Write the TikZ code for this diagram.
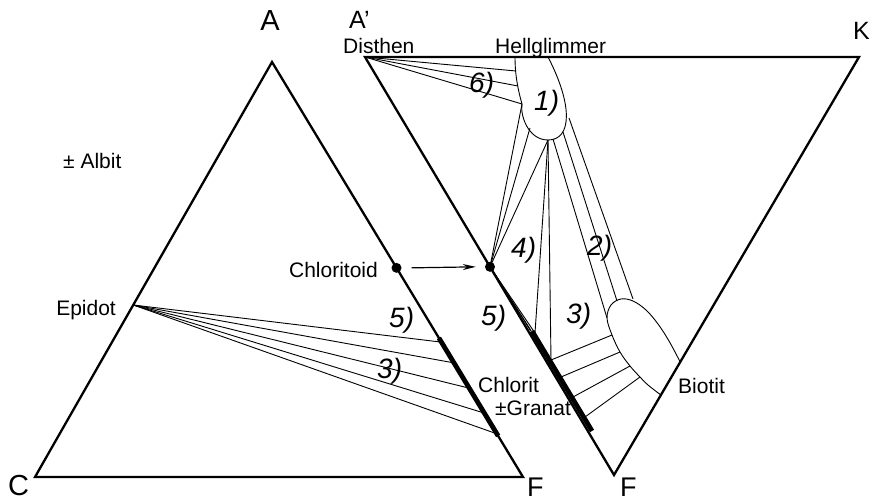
\documentclass[tikz,border=0pt]{standalone}
\usepackage{fontspec}
\setmainfont{Liberation Sans}
\usetikzlibrary{calc,arrows.meta}
\begin{document}
\begin{tikzpicture}[x=1pt,y=-1pt,
  side/.style={line width=2.3pt, line join=miter},
  tie/.style={line width=0.9pt},
  bar/.style={line width=4.8pt},
  lbl/.style={inner sep=0pt, font=\fontsize{21}{21}\selectfont},
  big/.style={inner sep=0pt, font=\fontsize{29}{29}\selectfont},
  num/.style={inner sep=0pt, font=\fontsize{28}{28}\selectfont\itshape},
  dotnode/.style={circle, fill, inner sep=0pt, minimum size=10pt}]
\useasboundingbox (0,0) rectangle (873,501);

% ---------- corners
\coordinate (A) at (272,62);
\coordinate (C) at (35,477);
\coordinate (F) at (523,477);
\coordinate (Ap) at (365,57);
\coordinate (K) at (859,57);
\coordinate (Fp) at (614,475);

% ---------- left triangle
\coordinate (Ep) at ($(A)!0.5855!(C)$);
\foreach \t [count=\i] in {0.675,0.725,0.786,0.846,0.896}
  \coordinate (lt\i) at ($(A)!\t!(F)$);
\foreach \i in {1,...,5} \draw[tie] (Ep) -- (lt\i);
\draw[side] (A) -- (C) -- (F) -- cycle;
\draw[bar] ($(A)!0.665!(F)$) -- ($(A)!0.901!(F)$);
\node[dotnode] (dL) at ($(A)!0.496!(F)$) {};

% ---------- right triangle: Hellglimmer field
\coordinate (Hb) at (548,140);
\coordinate (H1) at (516,71);
\coordinate (H2) at (518,86);
\coordinate (H3) at (522,104);
\coordinate (H4) at (530,128);
\coordinate (Ha) at (553,139);
\coordinate (Hbb) at (563,132);
\coordinate (Hc) at (569,118);
\draw[tie] (Hb) .. controls (528,140) and (520,115) .. (H3)
  .. controls (518,90) and (515,75) .. (515,57);
\draw[tie] (Hb) .. controls (572,140) and (573,105) .. (548,57);

% Biotit field
\coordinate (B0) at ($(K)!0.8086!(Fp)$);
\coordinate (B9) at ($(K)!0.7297!(Fp)$);
\coordinate (B1) at (612,335);
\coordinate (B2) at (620,352);
\coordinate (B3) at (630,366);
\coordinate (B4) at (640,377);
\coordinate (Bl) at (607,318);
\coordinate (Bt1) at (617,301);
\coordinate (Bt2) at (633,299);
\draw[tie] plot[smooth, tension=0.6] coordinates
  {(B0) (648,385) (B4) (B3) (B2) (B1) (Bl) (611,305) (621,299) (633,301)
   (646,310) (658,324) (669,341) (B9)};

% chloritoid dot
\coordinate (dR) at ($(Ap)!0.502!(Fp)$);
\coordinate (P1) at (535,333);
\coordinate (P2) at (551,360);
\coordinate (P3) at (561,377);
\coordinate (P4) at (573,397);
\coordinate (P5) at (585,417);

% 6) ties
\draw[tie] (Ap) -- (H1);
\draw[tie] (Ap) -- (H2);
\draw[tie] (Ap) -- (H3);
% 4) ties
\draw[tie] (dR) -- (H3);
\draw[tie] (dR) -- (H4);
\draw[tie] (dR) -- (Hb);
% 5) tie
\draw[tie] (dR) -- (P1);
% 3) ties
\draw[tie] (Hb) -- (P1);
\draw[tie] (Hb) -- (P2);
\draw[tie] (P2) -- (B1);
\draw[tie] (P3) -- (B2);
\draw[tie] (P4) -- (B3);
\draw[tie] (P5) -- (B4);
% 2) ties
\draw[tie] (Ha) -- (Bl);
\draw[tie] (Hbb) -- (Bt1);
\draw[tie] (Hc) -- (Bt2);

\draw[side] (Ap) -- (K) -- (Fp) -- cycle;
\draw[line width=1.4pt] (dR) -- (531,331);
\draw[bar] (532,331) -- (592,431);
\node[dotnode] (dRn) at (dR) {};

% arrow
\draw[line width=1.2pt, -{Stealth[length=13pt,width=6pt]}] ($(dL.east)+(10,0)$) -- ($(dRn.west)+(-9,0)$);

% ---------- labels
\node[big, anchor=base] (tA) at (270,30) {A};
\node[inner sep=0pt, font=\fontsize{25}{25}\selectfont, anchor=base west] (tAp) at (349,28) {A’};
\node[inner sep=0pt, font=\fontsize{25}{25}\selectfont, anchor=base east] (tK) at (870,39) {K};
\node[big, anchor=base west] (tC) at (8,495) {C};
\node[inner sep=0pt, font=\fontsize{27}{27}\selectfont, anchor=base west] (tF) at (527,496) {F};
\node[inner sep=0pt, font=\fontsize{27}{27}\selectfont, anchor=base west] (tFp) at (620,496) {F};

\node[lbl, anchor=base west] (tDis) at (343,53) {Disthen};
\node[lbl, anchor=base west] (tHell) at (495,53) {Hellglimmer};
\node[lbl, anchor=base west] (tAlb) at (63,168) {± Albit};
\node[lbl, anchor=base east] (tEpi) at (116,315) {Epidot};
\node[lbl, anchor=base east] (tCld) at (378,277) {Chloritoid};
\node[lbl, anchor=base west] (tChl) at (478,392) {Chlorit};
\node[lbl, anchor=base west] (tGr) at (495,415) {±Granat};
\node[lbl, anchor=base west] (tBio) at (678,393) {Biotit};

\node[num, anchor=base west] (n6) at (469,92) {6)};
\node[num, anchor=base west] (n1) at (534,110) {1)};
\node[num, anchor=base west] (n4) at (511,257) {4)};
\node[num, anchor=base west] (n2) at (587,255) {2)};
\node[num, anchor=base west] (n3r) at (566,323) {3)};
\node[num, anchor=base west] (n5r) at (481,325) {5)};
\node[num, anchor=base west] (n5l) at (389,327) {5)};
\node[num, anchor=base west] (n3l) at (377,378) {3)};
\end{tikzpicture}
\end{document}
